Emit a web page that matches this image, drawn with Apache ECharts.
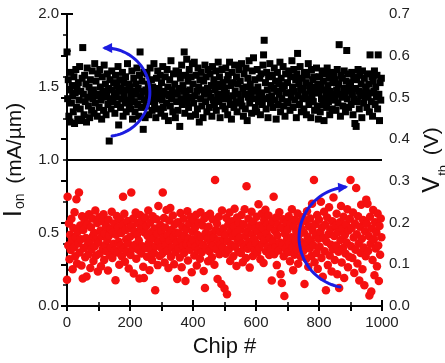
<!DOCTYPE html>
<html>
<head>
<meta charset="utf-8">
<script src="https://cdn.jsdelivr.net/npm/echarts@6/dist/echarts.min.js"></script>
<style>html,body{margin:0;padding:0;background:#fff}#c{width:445px;height:363px}</style>
</head>
<body>
<div id="c"></div>
<script>
// Tick labels
const xTicks = [0, 200, 400, 600, 800, 1000];
const ionTicks = [0.0, 0.5, 1.0, 1.5, 2.0];
const vthTicks = [0.0, 0.1, 0.2, 0.3, 0.4, 0.5, 0.6, 0.7];

// I_on (mA/um), black squares, one value per chip step (chips 0,2,4,...,998)
const ionValues = [
1.74,1.42,1.55,1.30,1.48,1.26,1.60,1.39,1.51,1.44,1.33,1.57,1.25,1.46,1.62,1.36,1.49,1.28,1.53,1.41,1.64,1.35,1.47,1.27,1.56,
1.77,1.45,1.31,1.58,1.40,1.52,1.26,1.63,1.43,1.37,1.50,1.29,1.55,1.46,1.34,1.61,1.42,1.48,1.32,1.66,1.39,1.54,1.45,1.30,1.59,
1.44,1.36,1.62,1.50,1.41,1.28,1.57,1.47,1.34,1.65,1.43,1.52,1.31,1.46,1.59,1.38,1.49,1.13,1.55,1.42,1.35,1.61,1.48,1.40,1.53,
1.46,1.32,1.58,1.43,1.51,1.38,1.64,1.24,1.47,1.55,1.36,1.49,1.42,1.60,1.30,1.53,1.45,1.39,1.57,1.33,1.48,1.66,1.41,1.52,1.37,
1.50,1.35,1.44,1.61,1.28,1.47,1.56,1.40,1.33,1.52,1.45,1.63,1.38,1.49,1.30,1.58,1.74,1.43,1.36,1.54,1.47,1.21,1.60,1.41,1.29,
1.48,1.37,1.59,1.44,1.52,1.31,1.46,1.63,1.40,1.55,1.34,1.50,1.43,1.66,1.38,1.47,1.29,1.56,1.42,1.61,1.35,1.49,1.45,1.58,1.32,
1.53,1.41,1.64,1.36,1.47,1.30,1.57,1.45,1.39,1.62,1.50,1.27,1.44,1.55,1.37,1.68,1.42,1.48,1.33,1.59,1.46,1.52,1.29,1.61,1.40,
1.45,1.34,1.60,1.49,1.23,1.56,1.42,1.65,1.38,1.51,1.47,1.74,1.32,1.58,1.44,1.69,1.40,1.54,1.36,1.62,1.48,1.30,1.57,1.43,1.66,
1.52,1.39,1.67,1.44,1.31,1.58,1.47,1.35,1.63,1.50,1.26,1.55,1.42,1.60,1.37,1.48,1.29,1.54,1.45,1.65,1.40,1.57,1.33,1.49,1.62,
1.46,1.36,1.59,1.43,1.51,1.30,1.64,1.41,1.55,1.38,1.48,1.61,1.34,1.52,1.44,1.67,1.40,1.57,1.29,1.50,1.45,1.62,1.37,1.53,1.42,
1.49,1.35,1.63,1.46,1.55,1.31,1.58,1.42,1.67,1.38,1.51,1.28,1.60,1.44,1.53,1.36,1.65,1.47,1.40,1.57,1.33,1.52,1.45,1.62,1.39,
1.54,1.41,1.66,1.37,1.49,1.30,1.59,1.45,1.35,1.63,1.50,1.27,1.56,1.43,1.68,1.39,1.52,1.46,1.32,1.61,1.48,1.70,1.42,1.55,1.36,
1.47,1.33,1.62,1.50,1.40,1.44,1.56,1.31,1.59,1.46,1.38,1.65,1.72,1.82,1.42,1.53,1.35,1.60,1.48,1.29,1.57,1.43,1.66,1.39,1.51,
1.44,1.58,1.36,1.49,1.63,1.41,1.54,1.28,1.47,1.60,1.38,1.52,1.45,1.67,1.33,1.56,1.42,1.49,1.64,1.37,1.51,1.30,1.59,1.46,1.40,
1.53,1.39,1.61,1.46,1.34,1.57,1.43,1.68,1.50,1.36,1.62,1.47,1.41,1.55,1.29,1.59,1.73,1.44,1.52,1.38,1.64,1.48,1.33,1.56,1.42,
1.49,1.35,1.60,1.45,1.53,1.31,1.58,1.42,1.66,1.38,1.51,1.47,1.29,1.62,1.44,1.55,1.40,1.57,1.34,1.50,1.46,1.63,1.37,1.52,1.28,
1.46,1.57,1.33,1.50,1.42,1.61,1.38,1.54,1.27,1.48,1.59,1.44,1.36,1.63,1.51,1.40,1.56,1.31,1.47,1.60,1.43,1.35,1.53,1.45,1.58,
1.41,1.55,1.34,1.48,1.62,1.39,1.52,1.79,1.45,1.30,1.58,1.43,1.56,1.37,1.49,1.61,1.46,1.33,1.54,1.75,1.42,1.59,1.36,1.50,1.47,
1.53,1.38,1.60,1.45,1.31,1.57,1.42,1.25,1.49,1.23,1.55,1.40,1.62,1.47,1.35,1.58,1.44,1.52,1.29,1.61,1.46,1.39,1.56,1.43,1.50,
1.48,1.36,1.59,1.44,1.52,1.33,1.72,1.46,1.40,1.57,1.30,1.54,1.47,1.61,1.38,1.50,1.43,1.58,1.35,1.72,1.45,1.27,1.53,1.41,1.56
];

// V_th (V), red circles, same chip steps
const vthValues = [
0.063,0.262,0.145,0.198,0.112,0.171,0.134,0.209,0.158,0.088,0.187,0.141,0.225,0.119,0.165,0.256,0.102,0.178,0.150,0.272,0.128,0.193,0.160,0.097,0.215,
0.066,0.182,0.139,0.205,0.117,0.163,0.071,0.196,0.148,0.124,0.220,0.155,0.091,0.189,0.136,0.210,0.168,0.108,0.175,0.143,0.229,0.121,0.160,0.199,0.083,
0.152,0.213,0.126,0.181,0.095,0.167,0.203,0.138,0.220,0.110,0.174,0.146,0.192,0.131,0.158,0.085,0.207,0.169,0.122,0.185,0.140,0.226,0.115,0.177,0.149,
0.198,0.133,0.062,0.171,0.216,0.128,0.189,0.154,0.099,0.208,0.145,0.175,0.119,0.195,0.262,0.138,0.221,0.106,0.182,0.160,0.130,0.204,0.150,0.090,0.187,
0.166,0.122,0.272,0.191,0.137,0.210,0.078,0.179,0.147,0.224,0.113,0.170,0.199,0.135,0.157,0.066,0.218,0.185,0.126,0.203,0.143,0.094,0.067,0.176,0.212,
0.139,0.192,0.118,0.168,0.229,0.151,0.086,0.200,0.134,0.177,0.110,0.215,0.162,0.127,0.186,0.038,0.144,0.208,0.173,0.098,0.240,0.155,0.120,0.194,0.141,
0.180,0.125,0.272,0.163,0.211,0.104,0.188,0.146,0.230,0.132,0.170,0.091,0.205,0.157,0.235,0.118,0.183,0.140,0.217,0.165,0.100,0.196,0.129,0.176,0.152,
0.065,0.201,0.137,0.174,0.116,0.223,0.159,0.093,0.190,0.144,0.209,0.127,0.168,0.060,0.184,0.148,0.227,0.109,0.162,0.197,0.135,0.214,0.150,0.081,0.178,
0.158,0.206,0.121,0.187,0.142,0.219,0.097,0.171,0.133,0.200,0.155,0.113,0.225,0.166,0.129,0.193,0.146,0.084,0.210,0.043,0.175,0.138,0.216,0.161,0.107,
0.190,0.131,0.221,0.153,0.172,0.117,0.208,0.145,0.165,0.099,0.302,0.182,0.136,0.198,0.065,0.157,0.214,0.124,0.176,0.148,0.053,0.229,0.140,0.186,0.160,
0.042,0.170,0.125,0.211,0.028,0.155,0.195,0.136,0.224,0.108,0.180,0.147,0.203,0.167,0.119,0.190,0.233,0.142,0.175,0.096,0.212,0.158,0.130,0.199,0.164,
0.183,0.127,0.218,0.150,0.105,0.196,0.141,0.232,0.168,0.115,0.287,0.179,0.137,0.209,0.154,0.092,0.191,0.145,0.226,0.172,0.120,0.202,0.160,0.134,0.186,
0.151,0.214,0.128,0.178,0.244,0.139,0.193,0.112,0.167,0.221,0.149,0.185,0.103,0.206,0.158,0.231,0.131,0.174,0.196,0.143,0.217,0.122,0.163,0.188,0.137,
0.061,0.203,0.155,0.262,0.124,0.180,0.141,0.212,0.098,0.169,0.194,0.133,0.225,0.152,0.076,0.187,0.055,0.146,0.208,0.119,0.024,0.173,0.138,0.199,0.160,
0.182,0.129,0.215,0.150,0.107,0.197,0.165,0.232,0.140,0.086,0.190,0.123,0.207,0.156,0.178,0.135,0.222,0.101,0.170,0.145,0.201,0.118,0.186,0.153,0.213,
0.132,0.176,0.053,0.204,0.148,0.113,0.227,0.166,0.094,0.191,0.138,0.210,0.157,0.120,0.245,0.181,0.145,0.302,0.105,0.196,0.170,0.127,0.218,0.089,0.161,
0.207,0.142,0.178,0.250,0.115,0.189,0.070,0.163,0.226,0.131,0.195,0.038,0.154,0.212,0.098,0.172,0.237,0.121,0.184,0.147,0.083,0.203,0.136,0.260,0.168,
0.110,0.192,0.145,0.221,0.076,0.177,0.130,0.043,0.201,0.158,0.240,0.104,0.185,0.139,0.214,0.067,0.170,0.126,0.196,0.152,0.232,0.093,0.181,0.118,0.209,
0.302,0.143,0.187,0.115,0.224,0.164,0.079,0.198,0.135,0.283,0.172,0.102,0.215,0.150,0.061,0.190,0.127,0.243,0.161,0.088,0.206,0.140,0.050,0.179,0.119,
0.255,0.197,0.245,0.132,0.168,0.025,0.214,0.149,0.035,0.186,0.110,0.230,0.160,0.074,0.201,0.138,0.177,0.095,0.222,0.145,0.060,0.192,0.123,0.210,0.165
];

// Chip numbers for each sample
const chipStep = 2;
const chips = ionValues.map((_, i) => i * chipStep);

// Divider between the two panels (I_on value)
const dividerIon = 1.0;

// Blue curved arrows: start, outermost point, end  ([chip, value] each)
const ionArrow = [143, 1.164, 263, 1.459, 121, 1.767];
const vthArrow = [867, 0.0455, 737, 0.158, 883, 0.285];

const FONT = 'Liberation Sans, Arial, sans-serif';
const BLUE = '#1c1ce0';
const chart = echarts.init(document.getElementById('c'), null, { renderer: 'canvas' });

const axisLine = { show: true, lineStyle: { color: '#000', width: 2 } };

// Draws a circular arc through three points with an arrowhead at the end
function arcArrow(params, api) {
  const p0 = api.coord([api.value(0), api.value(1)]);
  const p1 = api.coord([api.value(2), api.value(3)]);
  const p2 = api.coord([api.value(4), api.value(5)]);
  const ax = p0[0], ay = p0[1], bx = p1[0], by = p1[1], cx = p2[0], cy = p2[1];
  const d = 2 * (ax * (by - cy) + bx * (cy - ay) + cx * (ay - by));
  const ux = ((ax*ax + ay*ay) * (by - cy) + (bx*bx + by*by) * (cy - ay) + (cx*cx + cy*cy) * (ay - by)) / d;
  const uy = ((ax*ax + ay*ay) * (cx - bx) + (bx*bx + by*by) * (ax - cx) + (cx*cx + cy*cy) * (bx - ax)) / d;
  const r = Math.hypot(ax - ux, ay - uy);
  const a0 = Math.atan2(ay - uy, ax - ux);
  const a1 = Math.atan2(by - uy, bx - ux);
  const a2 = Math.atan2(cy - uy, cx - ux);
  const norm = a => { while (a < 0) a += 2 * Math.PI; while (a >= 2 * Math.PI) a -= 2 * Math.PI; return a; };
  let sweep = norm(a2 - a0);
  const toMid = norm(a1 - a0);
  let dir = 1;
  if (toMid > sweep) { dir = -1; sweep = 2 * Math.PI - sweep; }
  const pts = [];
  const N = 48;
  for (let i = 0; i <= N; i++) {
    const a = a0 + dir * sweep * i / N;
    pts.push([ux + r * Math.cos(a), uy + r * Math.sin(a)]);
  }
  const headLen = 10, headHalf = 5;
  const tangAngle = a2 + dir * Math.PI / 2;
  const tx = Math.cos(tangAngle), ty = Math.sin(tangAngle);
  const tip = [cx + tx * 3, cy + ty * 3];
  const base = [tip[0] - tx * headLen, tip[1] - ty * headLen];
  const head = [tip, [base[0] - ty * headHalf, base[1] + tx * headHalf], [base[0] + ty * headHalf, base[1] - tx * headHalf]];
  return {
    type: 'group',
    children: [
      { type: 'polyline', shape: { points: pts }, style: { stroke: BLUE, lineWidth: 3, fill: null, lineCap: 'round' } },
      { type: 'polygon', shape: { points: head }, style: { fill: BLUE } }
    ]
  };
}

chart.setOption({
  animation: false,
  backgroundColor: '#fff',
  grid: { left: 67, right: 63, top: 14, bottom: 57, outerBoundsMode: 'none', containLabel: false },
  xAxis: [
    {
      type: 'value', min: xTicks[0], max: xTicks[xTicks.length - 1], interval: 200,
      position: 'bottom',
      axisLine: axisLine,
      axisTick: { show: true, inside: true, length: 6, lineStyle: { color: '#000', width: 2 } },
      minorTick: { show: true, splitNumber: 2, length: 4, lineStyle: { color: '#000', width: 1.5 } },
      splitLine: { show: false },
      axisLabel: { color: '#222', fontFamily: FONT, fontSize: 15, margin: 9, formatter: v => String(v) },
      name: 'Chip #', nameLocation: 'middle', nameGap: 30,
      nameTextStyle: { color: '#111', fontFamily: FONT, fontSize: 22 }
    },
    {
      type: 'value', min: 0, max: 1000, interval: 100,
      position: 'top',
      axisLine: axisLine,
      axisTick: { show: true, inside: true, length: 5, lineStyle: { color: '#000', width: 2 } },
      axisLabel: { show: false },
      splitLine: { show: false }
    }
  ],
  yAxis: [
    {
      type: 'value', min: ionTicks[0], max: ionTicks[ionTicks.length - 1], interval: 0.5,
      position: 'left',
      axisLine: axisLine,
      axisTick: { show: true, inside: true, length: 6, lineStyle: { color: '#000', width: 2 } },
      minorTick: { show: true, splitNumber: 2, length: 4, lineStyle: { color: '#000', width: 1.5 } },
      splitLine: { show: false },
      axisLabel: { color: '#222', fontFamily: FONT, fontSize: 15, margin: 8, formatter: v => v.toFixed(1) },
      name: '{a|I}{s|on}{b| (mA/\u00b5m)}', nameLocation: 'middle', nameGap: 38, nameRotate: 90,
      nameTextStyle: {
        color: '#111', fontFamily: FONT,
        rich: {
          a: { fontSize: 26, fontFamily: FONT, color: '#111', verticalAlign: 'bottom' },
          s: { fontSize: 14, fontFamily: FONT, color: '#111', verticalAlign: 'bottom', padding: [0, 4, 0, 1] },
          b: { fontSize: 21, fontFamily: FONT, color: '#111', verticalAlign: 'bottom', padding: [0, 0, 2, 0] }
        }
      }
    },
    {
      type: 'value', min: vthTicks[0], max: vthTicks[vthTicks.length - 1], interval: 0.1,
      position: 'right',
      axisLine: axisLine,
      axisTick: { show: true, inside: true, length: 6, lineStyle: { color: '#000', width: 2 } },
      minorTick: { show: true, splitNumber: 2, length: 4, lineStyle: { color: '#000', width: 1.5 } },
      splitLine: { show: false },
      axisLabel: { color: '#222', fontFamily: FONT, fontSize: 15, margin: 7, formatter: v => v.toFixed(1) },
      name: '{a|V}{s|th}{b| (V)}', nameLocation: 'middle', nameGap: 38, nameRotate: 90,
      nameTextStyle: {
        color: '#111', fontFamily: FONT,
        rich: {
          a: { fontSize: 24, fontFamily: FONT, color: '#111', verticalAlign: 'top' },
          s: { fontSize: 13, fontFamily: FONT, color: '#111', verticalAlign: 'top', padding: [16, 4, 0, 1] },
          b: { fontSize: 21, fontFamily: FONT, color: '#111', verticalAlign: 'top', padding: [1, 0, 0, 0] }
        }
      }
    }
  ],
  series: [
    {
      type: 'scatter', name: 'Ion', xAxisIndex: 0, yAxisIndex: 0,
      symbol: 'rect', symbolSize: 7,
      itemStyle: { color: '#000', opacity: 1 },
      data: ionValues.map((v, i) => [chips[i], v]),
      z: 3,
      markLine: {
        silent: true, symbol: ['none', 'none'], label: { show: false },
        lineStyle: { color: '#000', width: 2, type: 'solid', opacity: 1 },
        data: [{ yAxis: dividerIon }]
      }
    },
    {
      type: 'scatter', name: 'Vth', xAxisIndex: 0, yAxisIndex: 1,
      symbol: 'circle', symbolSize: 8.5,
      itemStyle: { color: '#f51010', opacity: 1 },
      data: vthValues.map((v, i) => [chips[i], v]),
      z: 2
    },
    {
      type: 'custom', xAxisIndex: 0, yAxisIndex: 0, renderItem: arcArrow,
      data: [ionArrow], z: 10, silent: true, clip: false
    },
    {
      type: 'custom', xAxisIndex: 0, yAxisIndex: 1, renderItem: arcArrow,
      data: [vthArrow], z: 10, silent: true, clip: false
    }
  ]
});
</script>
</body>
</html>
